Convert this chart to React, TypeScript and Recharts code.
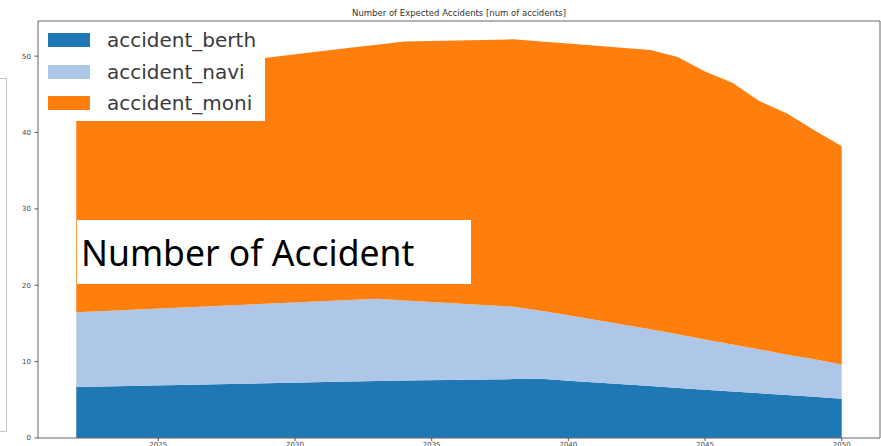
import React from 'react';
import { AreaChart, Area, XAxis, YAxis, ReferenceArea } from 'recharts';

// values (numeric years, kinks only)
const years = [2022, 2032, 2033, 2034, 2038, 2039, 2040, 2043, 2044, 2045, 2046, 2047, 2048, 2049, 2050];
const accidentBerth = [6.67, 7.39, 7.46, 7.53, 7.71, 7.76, 7.5, 6.8, 6.56, 6.33, 6.1, 5.86, 5.62, 5.39, 5.15];
const accidentNavi = [9.78, 10.68, 10.76, 10.47, 9.47, 8.91, 8.56, 7.45, 7.04, 6.57, 6.15, 5.74, 5.28, 4.91, 4.48];
const accidentMoni = [30.35, 33.03, 33.28, 33.9, 35.02, 35.25, 35.58, 36.55, 36.3, 35.1, 34.25, 32.5, 31.6, 30.0, 28.57];

const yearTicks = [2025, 2030, 2035, 2040, 2045, 2050];
const valueTicks = [0, 10, 20, 30, 40, 50];

const series = [
  { key: 'accident_berth', color: '#1f77b4' },
  { key: 'accident_navi', color: '#aec7e8' },
  { key: 'accident_moni', color: '#ff7f0e' },
];

const data = years.map((year, i) => ({
  year,
  accident_berth: accidentBerth[i],
  accident_navi: accidentNavi[i],
  accident_moni: accidentMoni[i],
}));

const X_DOMAIN: [number, number] = [2020.6, 2051.4];
const Y_DOMAIN: [number, number] = [0, 54.6];

const tickStyle = { fontSize: 7, fill: '#444', fontFamily: 'DejaVu Sans' };

// legend sits over the top-left corner of the plot, like matplotlib's loc="upper left"
function LegendBox() {
  return (
    <div
      style={{
        position: 'absolute',
        left: 39,
        top: 22,
        width: 226,
        height: 99,
        background: '#fff',
        fontFamily: 'DejaVu Sans',
      }}
    >
      {series.map((s, i) => (
        <div
          key={s.key}
          style={{ position: 'absolute', left: 0, top: 18 + i * 31.5 - 14, height: 28, display: 'flex', alignItems: 'center' }}
        >
          <div style={{ width: 42, height: 14, background: s.color, marginLeft: 9 }} />
          <span style={{ marginLeft: 17, fontSize: 20, color: '#3a3a3a', lineHeight: '28px' }}>{s.key}</span>
        </div>
      ))}
    </div>
  );
}

export default function App() {
  return (
    <div style={{ position: 'absolute', left: 0, top: 0, width: 881, height: 446, background: '#fff', overflow: 'hidden' }}>
      <div
        style={{
          position: 'absolute',
          left: 38,
          width: 842,
          top: 8,
          textAlign: 'center',
          fontFamily: 'DejaVu Sans',
          fontSize: 8.5,
          color: '#333',
        }}
      >
        Number of Expected Accidents [num of accidents]
      </div>
      <div style={{ position: 'absolute', left: -2, top: 78, width: 7, height: 352, border: '1px solid #c4c4c4' }} />
      <AreaChart width={881} height={446} data={data} margin={{ top: 21, right: 1, bottom: 0, left: 0 }}>
        <XAxis
          dataKey="year"
          type="number"
          domain={X_DOMAIN}
          ticks={yearTicks}
          allowDataOverflow
          height={8}
          tickSize={3}
          tickMargin={1}
          axisLine={false}
          tickLine={{ stroke: '#555' }}
          tick={tickStyle}
        />
        <YAxis
          type="number"
          domain={Y_DOMAIN}
          ticks={valueTicks}
          allowDataOverflow
          width={38}
          tickSize={3.5}
          tickMargin={3.5}
          axisLine={false}
          tickLine={{ stroke: '#555' }}
          tick={tickStyle}
        />
        {series.map((s) => (
          <Area
            key={s.key}
            type="linear"
            dataKey={s.key}
            stackId="acc"
            stroke="none"
            fill={s.color}
            fillOpacity={1}
            isAnimationActive={false}
          />
        ))}
        <ReferenceArea
          x1={X_DOMAIN[0]}
          x2={X_DOMAIN[1]}
          y1={Y_DOMAIN[0]}
          y2={Y_DOMAIN[1]}
          fill="none"
          stroke="#666"
          strokeWidth={1}
          ifOverflow="visible"
        />
      </AreaChart>
      <LegendBox />
      <div
        style={{
          position: 'absolute',
          left: 77,
          top: 220,
          width: 394,
          height: 64,
          background: '#fff',
          fontFamily: 'Noto Sans',
          fontSize: 35.5,
          color: '#000',
          lineHeight: '64px',
          paddingLeft: 4,
          boxSizing: 'border-box',
        }}
      >
        Number of Accident
      </div>
    </div>
  );
}
